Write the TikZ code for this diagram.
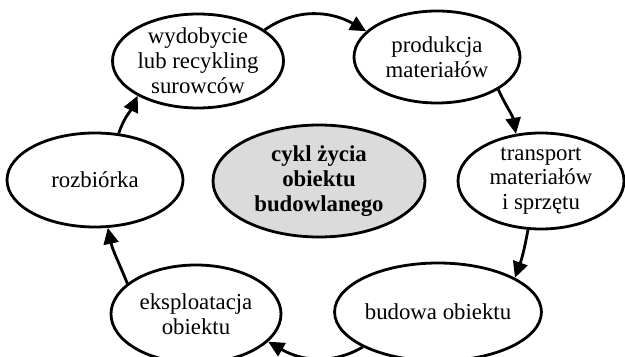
\documentclass[tikz,border=0pt]{standalone}
\usepackage{fontspec}
\setmainfont{Liberation Serif}
\usetikzlibrary{shapes.geometric,arrows.meta}

\begin{document}
\begin{tikzpicture}[x=0.5pt,y=-0.5pt,
    faza/.style={ellipse,draw,line width=1.4pt,inner sep=0pt,align=center,
      font=\fontsize{11.4}{12.4}\selectfont},
    strz/.style={line width=1.4pt,-{Triangle[length=8pt,width=7.5pt]}}]
    \useasboundingbox (0,0) rectangle (625,357);
    % fazy cyklu (zgodnie z ruchem wskazowek zegara)
    \node[faza,minimum width=85pt,minimum height=47pt] (f1) at (198,61) {wydobycie\\lub recykling\\surowców};
    \node[faza,minimum width=83pt,minimum height=46pt] (f2) at (437,57) {produkcja\\materiałów};
    \node[faza,minimum width=83pt,minimum height=48pt] (f3) at (541,181) {transport\\materiałów\\i sprzętu};
    \node[faza,minimum width=84pt,minimum height=49pt] (f4) at (438,312) {budowa obiektu};
    \node[faza,minimum width=85pt,minimum height=49pt] (f5) at (196,314) {eksploatacja\\obiektu};
    \node[faza,minimum width=88pt,minimum height=47pt] (f6) at (95,180) {rozbiórka};
    \node[faza,fill=gray!28,minimum width=106pt,minimum height=56pt,
      font=\fontsize{11.4}{12.4}\selectfont\bfseries] (cykl) at (319,181) {cykl życia\\obiektu\\budowlanego};
    % strzalki
    \draw[strz] (f1.25) to[out=35,in=150] (f2.160);
    \draw[strz] (f2.-28) to[out=-65,in=100] (f3.118);
    \draw[strz] (f3.-105) to[out=-100,in=70] (f4.24);
    \draw[strz] (f4.-155) to[out=-150,in=-30] (f5.-21);
    \draw[strz] (f5.156) to[out=112,in=-78] (f6.-75);
    \draw[strz] (f6.63) to[out=72,in=-115] (f1.-150);
\end{tikzpicture}
\end{document}
